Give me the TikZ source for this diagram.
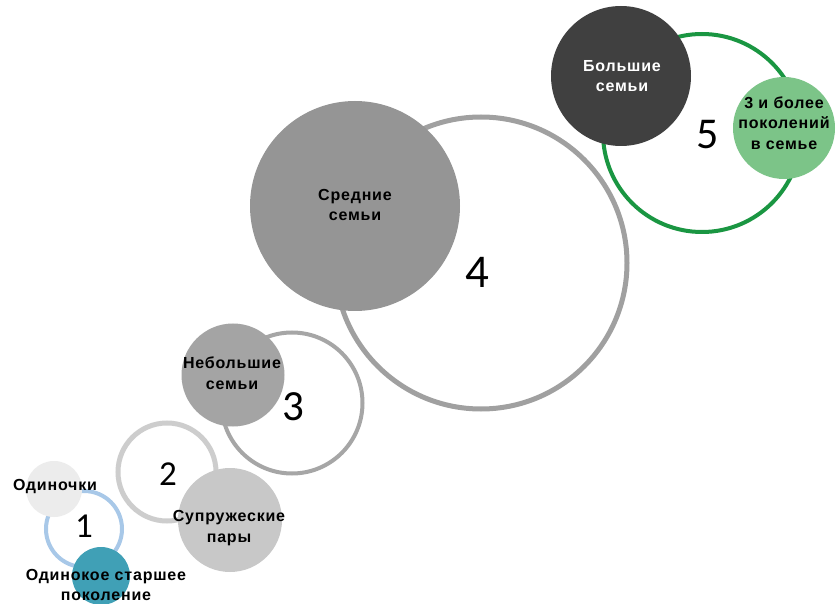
\documentclass[tikz,border=0pt]{standalone}
\usepackage{fontspec}
\setmainfont{Liberation Sans}
\newfontfamily\numfont{Carlito}
\definecolor{ringA}{HTML}{A8C8E8}
\definecolor{ringB}{HTML}{CDCDCD}
\definecolor{ringC}{HTML}{A6A6A6}
\definecolor{ringD}{HTML}{A0A0A0}
\definecolor{ringE}{HTML}{1A9642}
\definecolor{fOdin}{HTML}{ECECEC}
\definecolor{fTeal}{HTML}{40A0B6}
\definecolor{fSupr}{HTML}{C8C8C8}
\definecolor{fSmall}{HTML}{A4A4A4}
\definecolor{fMid}{HTML}{959595}
\definecolor{fBig}{HTML}{404040}
\definecolor{fGreen}{HTML}{7CC488}
\tikzset{
  ring/.style={circle, draw, fill=white, inner sep=0pt},
  blob/.style={circle, inner sep=0pt},
  lbl/.style={align=center, inner sep=0pt, font=\fontsize{16}{20.5}\selectfont\bfseries\addfontfeature{LetterSpace=5}},
  num/.style={inner sep=0pt, font=\numfont}
}
\begin{document}
\begin{tikzpicture}[x=1pt,y=-1pt]
\useasboundingbox[fill=white] (0,0) rectangle (836,604);
% rings
\node[ring, draw=ringA, line width=4pt, minimum size=76pt] (r1) at (84,529) {};
\node[ring, draw=ringB, line width=5pt, minimum size=98pt] (r2) at (167,472) {};
\node[ring, draw=ringC, line width=4pt, minimum size=141pt] (r3) at (292,403) {};
\node[ring, draw=ringD, line width=5pt, minimum size=292pt] (r4) at (481,263) {};
\node[ring, draw=ringE, line width=4pt, minimum size=198pt] (r5) at (702,133) {};
% filled circles
\node[blob, fill=fOdin, minimum size=56pt] (c1a) at (54,489) {};
\node[blob, fill=fTeal, minimum size=58pt] (c1b) at (101,576) {};
\node[blob, fill=fSupr, minimum size=104pt] (c2) at (230,520) {};
\node[blob, fill=fSmall, minimum size=103pt] (c3) at (233,375) {};
\node[blob, fill=fMid, minimum size=210pt] (c4) at (355,206) {};
\node[blob, fill=fBig, minimum size=140pt] (c5a) at (621,76) {};
\node[blob, fill=fGreen, minimum size=102pt] (c5b) at (784,128) {};
% labels
\node[lbl] (t1a) at (55,487) {Одиночки};
\node[lbl] (t1b) at (106,585) {Одинокое старшее\\поколение};
\node[lbl] (t2) at (229,528) {Супружеские\\пары};
\node[lbl] (t3) at (232,373) {Небольшие\\семьи};
\node[lbl] (t4) at (355,205) {Средние\\семьи};
\node[lbl, text=white] (t5a) at (622,76) {Большие\\семьи};
\node[lbl] (t5b) at (784,123) {3 и более\\поколений\\в семье};
% numbers
\node[num, font=\numfont\fontsize{35}{35}\selectfont] (n1) at (84,526) {1};
\node[num, font=\numfont\fontsize{35}{35}\selectfont] (n2) at (168,474) {2};
\node[num, font=\numfont\fontsize{43}{43}\selectfont] (n3) at (293,407) {3};
\node[num, font=\numfont\fontsize{47}{47}\selectfont] (n4) at (477,272) {4};
\node[num, font=\numfont\fontsize{44}{44}\selectfont] (n5) at (708,135) {5};
\end{tikzpicture}
\end{document}
